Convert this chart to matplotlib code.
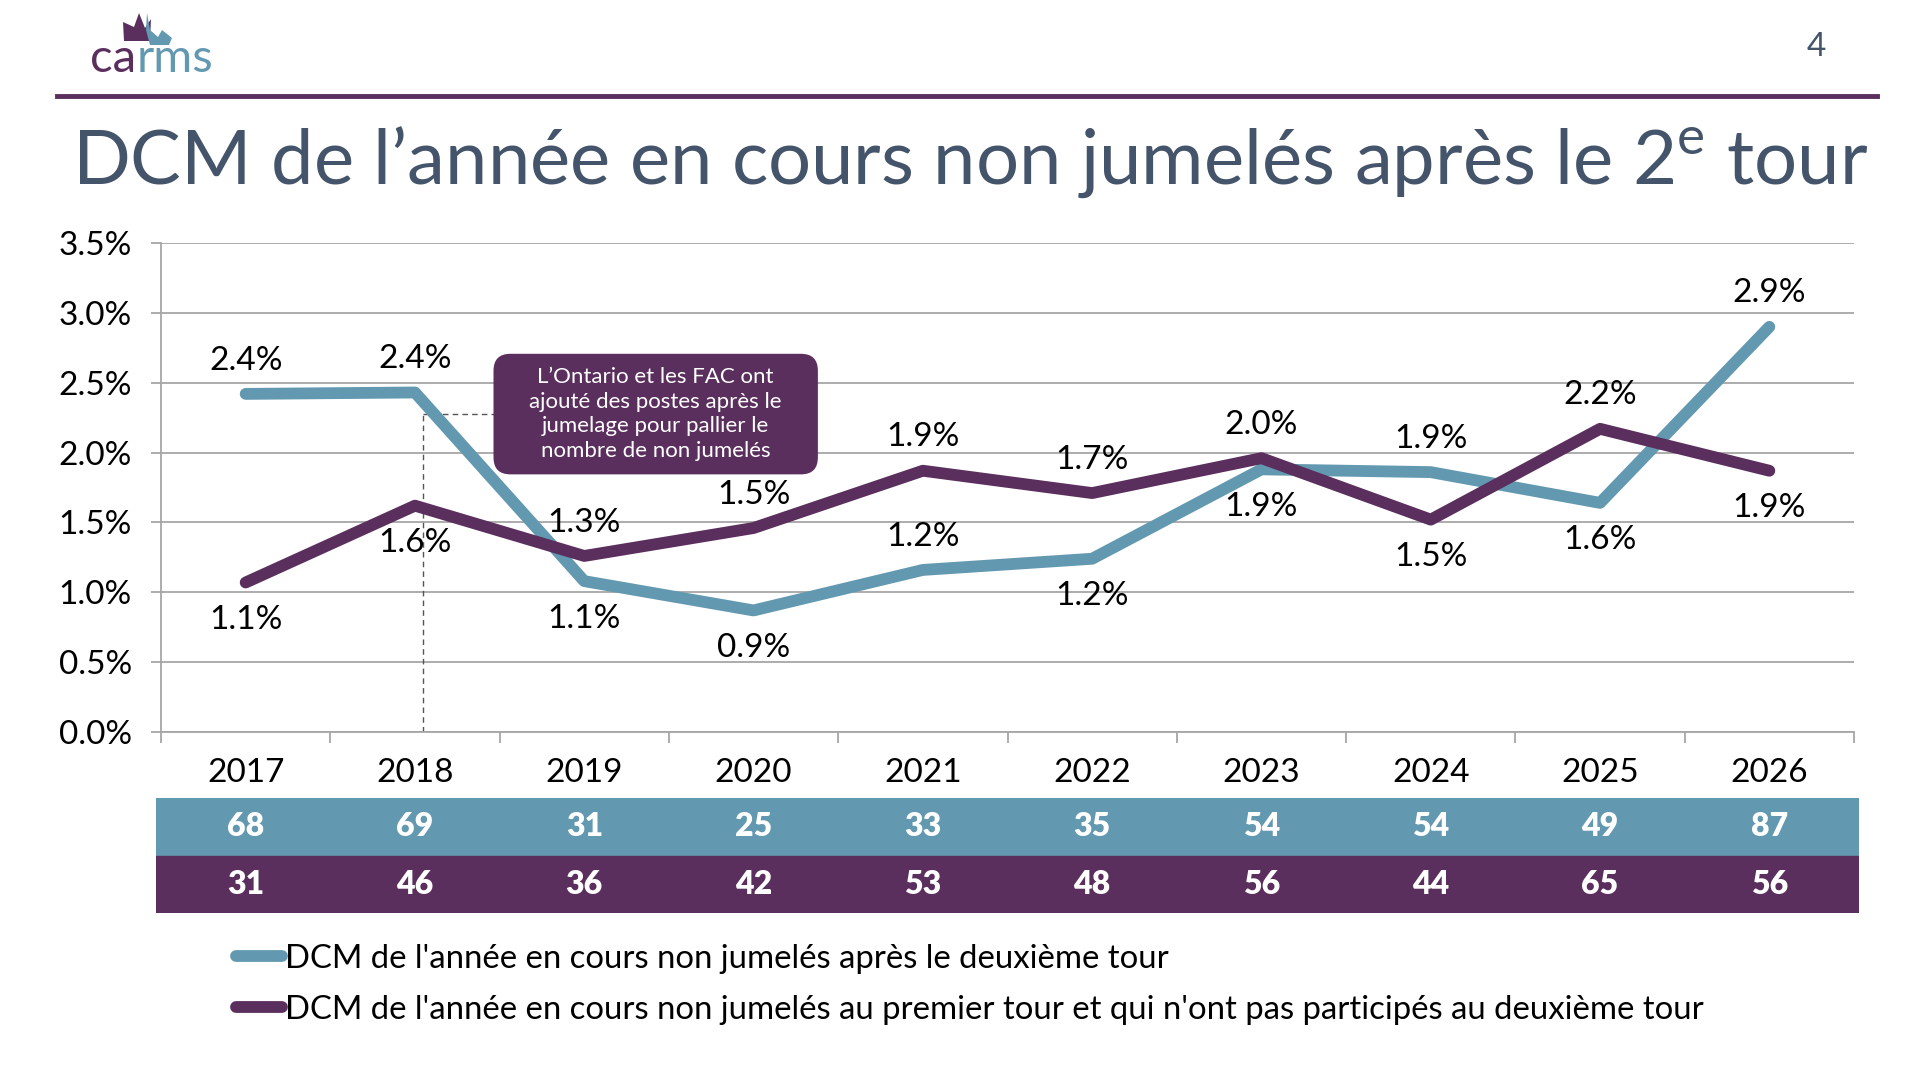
import numpy as np
import matplotlib
matplotlib.use("Agg")
import matplotlib.pyplot as plt
from matplotlib.lines import Line2D
from matplotlib.patches import FancyBboxPatch, Polygon
from matplotlib.text import Annotation
from matplotlib.ticker import FuncFormatter

# data
years = ["2017", "2018", "2019", "2020", "2021", "2022", "2023", "2024", "2025", "2026"]
after_round2 = [2.42, 2.43, 1.08, 0.87, 1.16, 1.24, 1.88, 1.86, 1.64, 2.90]
not_in_round2 = [1.07, 1.62, 1.26, 1.46, 1.87, 1.71, 1.96, 1.52, 2.17, 1.87]
after_round2_n = [68, 69, 31, 25, 33, 35, 54, 54, 49, 87]
not_in_round2_n = [31, 46, 36, 42, 53, 48, 56, 44, 65, 56]
after_pos = ["up", "up", "down", "down", "up", "down", "down", "up", "down", "up"]
not_in_pos = ["down", "down", "up", "up", "up", "up", "up", "down", "up", "down"]

legend_labels = ["DCM de l'année en cours non jumelés après le deuxième tour",
                 "DCM de l'année en cours non jumelés au premier tour et qui n'ont pas participés au deuxième tour"]
note_text = "L\u2019Ontario et les FAC ont\najouté des postes après le\njumelage pour pallier le\nnombre de non jumelés"
title = "DCM de l\u2019année en cours non jumelés après le 2$^{\\mathrm{e}}$ tour"

TEAL = "#6399b0"
PURPLE = "#5b2f5d"
SLATE = "#44546a"
GRID = "#a6a6a6"
NUM_FONT = ["Lato", "DejaVu Sans"]
TXT_FONT = ["Lato", "DejaVu Sans"]

plt.rcParams["font.family"] = TXT_FONT
plt.rcParams["mathtext.fontset"] = "custom"
plt.rcParams["mathtext.rm"] = "Lato"

W, H = 1920, 1080


def fx(x):
    return x / W


def fy(y):
    return 1 - y / H


fig = plt.figure(figsize=(19.2, 10.8), dpi=100)

# header
fig.add_artist(Line2D([fx(57), fx(1877)], [fy(96), fy(96)], lw=3.5, color=PURPLE))
fig.text(fx(72), fy(162), title, fontsize=54.7, color=SLATE, va="center", ha="left")
fig.text(fx(1816), fy(47), "4", fontsize=24, color=SLATE, va="center", ha="center")

# logo
t1 = fig.text(fx(90), fy(72), "ca", fontsize=34, color=PURPLE, va="baseline", ha="left")
fig.add_artist(Annotation("rms", xy=(1, 0), xycoords=t1, va="bottom", ha="left",
                          fontsize=34, color=TEAL, annotation_clip=False))
crown = [(124, 41), (150, 41), (151, 19), (145, 28), (139, 13), (134, 27), (123, 22)]
flame = [(147, 13), (150, 30), (158, 37), (162, 30), (172, 38), (169, 45), (150, 45), (146, 30)]
for pts, col in [(crown, PURPLE), (flame, TEAL)]:
    fig.add_artist(Polygon([(fx(a), fy(b)) for a, b in pts], closed=True,
                           transform=fig.transFigure, fc=col, ec="none"))

# main chart
ax = fig.add_axes([fx(161), fy(732), fx(1854) - fx(161), fy(243) - fy(732)])
x = np.arange(len(years))
l1, = ax.plot(x, after_round2, color=TEAL, lw=8.5, solid_capstyle="round", solid_joinstyle="round", zorder=3)
l2, = ax.plot(x, not_in_round2, color=PURPLE, lw=8.5, solid_capstyle="round", solid_joinstyle="round", zorder=4)

for vals, pos in [(after_round2, after_pos), (not_in_round2, not_in_pos)]:
    for i, (v, p) in enumerate(zip(vals, pos)):
        ax.annotate(f"{v:.1f}%", (i, v), xytext=(0, 24 if p == "up" else -27),
                    textcoords="offset points", ha="center", va="center",
                    fontsize=24, family=NUM_FONT, color="black", zorder=5)

ax.set_xlim(-0.5, len(years) - 0.5)
ax.set_ylim(0, 3.5)
ax.set_yticks(np.arange(0, 3.51, 0.5))
ax.yaxis.set_major_formatter(FuncFormatter(lambda v, p: f"{v:.1f}%"))
ax.yaxis.grid(True, color=GRID, lw=1.3)
ax.set_axisbelow(True)
ax.set_xticks(x)
ax.set_xticklabels(years)
ax.set_xticks(np.arange(-0.5, len(years)), minor=True)
ax.tick_params(axis="x", which="major", length=0, pad=19)
ax.tick_params(axis="x", which="minor", length=8, color=GRID, width=1.3)
ax.tick_params(axis="y", length=7, color=GRID, width=1.3, pad=14)
for lab in ax.get_xticklabels() + ax.get_yticklabels():
    lab.set_family(NUM_FONT)
    lab.set_fontsize(24)
for s in ["top", "right"]:
    ax.spines[s].set_visible(False)
ax.spines["left"].set_color(GRID)
ax.spines["bottom"].set_color(GRID)
ax.spines["left"].set_linewidth(1.3)
ax.spines["bottom"].set_linewidth(1.3)

# note box and dashed leader
box_x0, box_x1, box_y0, box_y1 = 1.464, 3.38, 1.844, 2.707
box_yc = (box_y0 + box_y1) / 2
ax.add_patch(FancyBboxPatch((box_x0, box_y0), box_x1 - box_x0, box_y1 - box_y0,
                            boxstyle="round,pad=0,rounding_size=0.1", mutation_aspect=1.21,
                            fc=PURPLE, ec="none", zorder=6))
ax.text((box_x0 + box_x1) / 2, box_yc, note_text, ha="center", va="center", color="white",
        fontsize=16, linespacing=1.28, zorder=7)
ax.plot([1.05, 1.05], [0, box_yc], ls=(0, (4, 3)), color="#555555", lw=1, zorder=2)
ax.plot([1.05, box_x0], [box_yc, box_yc], ls=(0, (4, 3)), color="#555555", lw=1, zorder=2)

# counts table under the axis
tab = fig.add_axes([fx(156), fy(913), fx(1859) - fx(156), fy(798) - fy(913)])
tab.set_xlim(-0.53, 9.53)
tab.set_ylim(0, 2)
tab.axhspan(1, 2, color=TEAL)
tab.axhspan(0, 1, color=PURPLE)
for i in range(len(years)):
    tab.text(i, 1.5, str(after_round2_n[i]), ha="center", va="center", color="white",
             fontsize=23, fontweight="heavy", family=NUM_FONT)
    tab.text(i, 0.5, str(not_in_round2_n[i]), ha="center", va="center", color="white",
             fontsize=23, fontweight="heavy", family=NUM_FONT)
tab.axis("off")

fig.legend([l1, l2], legend_labels, loc="upper left", bbox_to_anchor=(fx(236), fy(944)),
           frameon=False, fontsize=23.7, handlelength=1.4, handletextpad=0.1,
           labelspacing=0.63, borderpad=0, borderaxespad=0)

fig.savefig("out.png", dpi=100, facecolor="white")
